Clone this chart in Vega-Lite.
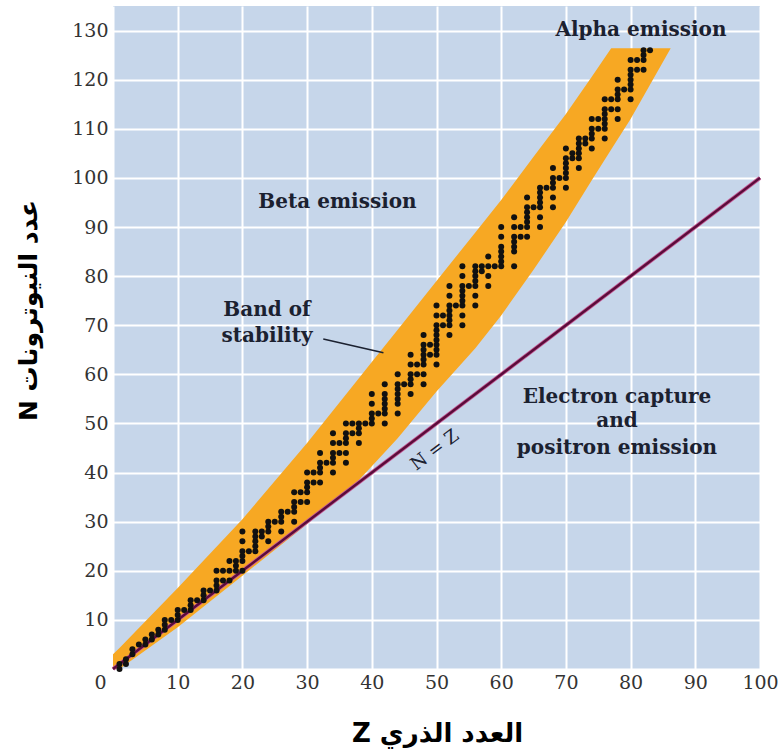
{
  "$schema": "https://vega.github.io/schema/vega-lite/v6.json",
  "width": 647,
  "height": 663,
  "autosize": {"type": "none"},
  "padding": {"left": 113, "top": 6, "right": 24, "bottom": 87},
  "background": "white",
  "config": {"view": {"fill": "#c6d6ea", "stroke": null}},
  "datasets": {
    "band": [
      {"Z": 0, "N": 0, "N2": 3},
      {"Z": 1, "N": 0, "N2": 4.3},
      {"Z": 10, "N": 8.5, "N2": 16.5},
      {"Z": 20, "N": 19, "N2": 30.5},
      {"Z": 30, "N": 29.5, "N2": 46},
      {"Z": 38, "N": 38.5, "N2": 59.2},
      {"Z": 40, "N": 41.3, "N2": 62.5},
      {"Z": 44, "N": 47, "N2": 69.1},
      {"Z": 50, "N": 56.5, "N2": 79},
      {"Z": 56, "N": 65.3, "N2": 88.9},
      {"Z": 60, "N": 72, "N2": 95.5},
      {"Z": 65, "N": 81.3, "N2": 104.3},
      {"Z": 70, "N": 91, "N2": 113},
      {"Z": 74, "N": 99.5, "N2": 120.6},
      {"Z": 77, "N": 105.8, "N2": 126.4},
      {"Z": 80, "N": 112, "N2": 126.4},
      {"Z": 86.2, "N": 126.4, "N2": 126.4}
    ],
    "diag": [{"Z": 0, "N": 0, "Z2": 100, "N2": 100}],
    "pointer": [{"Z": 32.5, "N": 67.2, "Z2": 41.8, "N2": 64.4}],
    "nuclides": [
      {"Z":1,"N":0},{"Z":1,"N":1},{"Z":2,"N":1},{"Z":2,"N":2},{"Z":3,"N":3},{"Z":3,"N":4},{"Z":4,"N":5},{"Z":5,"N":5},{"Z":5,"N":6},
      {"Z":6,"N":6},{"Z":6,"N":7},{"Z":7,"N":7},{"Z":7,"N":8},{"Z":8,"N":8},{"Z":8,"N":9},{"Z":8,"N":10},{"Z":9,"N":10},
      {"Z":10,"N":10},{"Z":10,"N":11},{"Z":10,"N":12},{"Z":11,"N":12},{"Z":12,"N":12},{"Z":12,"N":13},{"Z":12,"N":14},{"Z":13,"N":14},
      {"Z":14,"N":14},{"Z":14,"N":15},{"Z":14,"N":16},{"Z":15,"N":16},{"Z":16,"N":16},{"Z":16,"N":17},{"Z":16,"N":18},{"Z":16,"N":20},
      {"Z":17,"N":18},{"Z":17,"N":20},{"Z":18,"N":18},{"Z":18,"N":20},{"Z":18,"N":22},{"Z":19,"N":20},{"Z":19,"N":21},{"Z":19,"N":22},
      {"Z":20,"N":20},{"Z":20,"N":22},{"Z":20,"N":23},{"Z":20,"N":24},{"Z":20,"N":26},{"Z":20,"N":28},{"Z":21,"N":24},
      {"Z":22,"N":24},{"Z":22,"N":25},{"Z":22,"N":26},{"Z":22,"N":27},{"Z":22,"N":28},{"Z":23,"N":27},{"Z":23,"N":28},
      {"Z":24,"N":26},{"Z":24,"N":28},{"Z":24,"N":29},{"Z":24,"N":30},{"Z":25,"N":30},{"Z":26,"N":28},{"Z":26,"N":30},{"Z":26,"N":31},{"Z":26,"N":32},
      {"Z":27,"N":32},{"Z":28,"N":30},{"Z":28,"N":32},{"Z":28,"N":33},{"Z":28,"N":34},{"Z":28,"N":36},{"Z":29,"N":34},{"Z":29,"N":36},
      {"Z":30,"N":34},{"Z":30,"N":36},{"Z":30,"N":37},{"Z":30,"N":38},{"Z":30,"N":40},{"Z":31,"N":38},{"Z":31,"N":40},
      {"Z":32,"N":38},{"Z":32,"N":40},{"Z":32,"N":41},{"Z":32,"N":42},{"Z":32,"N":44},{"Z":33,"N":42},
      {"Z":34,"N":40},{"Z":34,"N":42},{"Z":34,"N":43},{"Z":34,"N":44},{"Z":34,"N":46},{"Z":34,"N":48},{"Z":35,"N":44},{"Z":35,"N":46},
      {"Z":36,"N":42},{"Z":36,"N":44},{"Z":36,"N":46},{"Z":36,"N":47},{"Z":36,"N":48},{"Z":36,"N":50},{"Z":37,"N":48},{"Z":37,"N":50},
      {"Z":38,"N":46},{"Z":38,"N":48},{"Z":38,"N":49},{"Z":38,"N":50},{"Z":39,"N":50},
      {"Z":40,"N":50},{"Z":40,"N":51},{"Z":40,"N":52},{"Z":40,"N":54},{"Z":40,"N":56},{"Z":41,"N":52},
      {"Z":42,"N":50},{"Z":42,"N":52},{"Z":42,"N":53},{"Z":42,"N":54},{"Z":42,"N":55},{"Z":42,"N":56},{"Z":42,"N":58},
      {"Z":44,"N":52},{"Z":44,"N":54},{"Z":44,"N":55},{"Z":44,"N":56},{"Z":44,"N":57},{"Z":44,"N":58},{"Z":44,"N":60},{"Z":45,"N":58},
      {"Z":46,"N":56},{"Z":46,"N":58},{"Z":46,"N":59},{"Z":46,"N":60},{"Z":46,"N":62},{"Z":46,"N":64},{"Z":47,"N":60},{"Z":47,"N":62},
      {"Z":48,"N":58},{"Z":48,"N":60},{"Z":48,"N":62},{"Z":48,"N":63},{"Z":48,"N":64},{"Z":48,"N":65},{"Z":48,"N":66},{"Z":48,"N":68},
      {"Z":49,"N":64},{"Z":49,"N":66},
      {"Z":50,"N":62},{"Z":50,"N":64},{"Z":50,"N":65},{"Z":50,"N":66},{"Z":50,"N":67},{"Z":50,"N":68},{"Z":50,"N":69},{"Z":50,"N":70},{"Z":50,"N":72},{"Z":50,"N":74},
      {"Z":51,"N":70},{"Z":51,"N":72},
      {"Z":52,"N":68},{"Z":52,"N":70},{"Z":52,"N":71},{"Z":52,"N":72},{"Z":52,"N":73},{"Z":52,"N":74},{"Z":52,"N":76},{"Z":52,"N":78},{"Z":53,"N":74},
      {"Z":54,"N":70},{"Z":54,"N":72},{"Z":54,"N":74},{"Z":54,"N":75},{"Z":54,"N":76},{"Z":54,"N":77},{"Z":54,"N":78},{"Z":54,"N":80},{"Z":54,"N":82},
      {"Z":55,"N":78},
      {"Z":56,"N":74},{"Z":56,"N":76},{"Z":56,"N":78},{"Z":56,"N":79},{"Z":56,"N":80},{"Z":56,"N":81},{"Z":56,"N":82},
      {"Z":57,"N":81},{"Z":57,"N":82},{"Z":58,"N":78},{"Z":58,"N":80},{"Z":58,"N":82},{"Z":58,"N":84},{"Z":59,"N":82},
      {"Z":60,"N":82},{"Z":60,"N":83},{"Z":60,"N":84},{"Z":60,"N":85},{"Z":60,"N":86},{"Z":60,"N":88},{"Z":60,"N":90},
      {"Z":62,"N":82},{"Z":62,"N":85},{"Z":62,"N":86},{"Z":62,"N":87},{"Z":62,"N":88},{"Z":62,"N":90},{"Z":62,"N":92},
      {"Z":63,"N":88},{"Z":63,"N":90},
      {"Z":64,"N":88},{"Z":64,"N":90},{"Z":64,"N":91},{"Z":64,"N":92},{"Z":64,"N":93},{"Z":64,"N":94},{"Z":64,"N":96},{"Z":65,"N":94},
      {"Z":66,"N":90},{"Z":66,"N":92},{"Z":66,"N":94},{"Z":66,"N":95},{"Z":66,"N":96},{"Z":66,"N":97},{"Z":66,"N":98},{"Z":67,"N":98},
      {"Z":68,"N":94},{"Z":68,"N":96},{"Z":68,"N":98},{"Z":68,"N":99},{"Z":68,"N":100},{"Z":68,"N":102},{"Z":69,"N":100},
      {"Z":70,"N":98},{"Z":70,"N":100},{"Z":70,"N":101},{"Z":70,"N":102},{"Z":70,"N":103},{"Z":70,"N":104},{"Z":70,"N":106},
      {"Z":71,"N":104},{"Z":71,"N":105},
      {"Z":72,"N":102},{"Z":72,"N":104},{"Z":72,"N":105},{"Z":72,"N":106},{"Z":72,"N":107},{"Z":72,"N":108},{"Z":73,"N":107},{"Z":73,"N":108},
      {"Z":74,"N":106},{"Z":74,"N":108},{"Z":74,"N":109},{"Z":74,"N":110},{"Z":74,"N":112},{"Z":75,"N":110},{"Z":75,"N":112},
      {"Z":76,"N":108},{"Z":76,"N":110},{"Z":76,"N":111},{"Z":76,"N":112},{"Z":76,"N":113},{"Z":76,"N":114},{"Z":76,"N":116},
      {"Z":77,"N":114},{"Z":77,"N":116},
      {"Z":78,"N":112},{"Z":78,"N":114},{"Z":78,"N":116},{"Z":78,"N":117},{"Z":78,"N":118},{"Z":78,"N":120},{"Z":79,"N":118},
      {"Z":80,"N":116},{"Z":80,"N":118},{"Z":80,"N":119},{"Z":80,"N":120},{"Z":80,"N":121},{"Z":80,"N":122},{"Z":80,"N":124},
      {"Z":81,"N":122},{"Z":81,"N":124},{"Z":82,"N":122},{"Z":82,"N":124},{"Z":82,"N":125},{"Z":82,"N":126},{"Z":83,"N":126}
    ],
    "notes": [
      {"Z": 81.6, "N": 130.1, "label": "Alpha emission"},
      {"Z": 34.7, "N": 95.0, "label": "Beta emission"},
      {"Z": 23.8, "N": 73.1, "label": "Band of"},
      {"Z": 23.8, "N": 67.8, "label": "stability"},
      {"Z": 77.9, "N": 55.3, "label": "Electron capture"},
      {"Z": 77.9, "N": 50.4, "label": "and"},
      {"Z": 77.9, "N": 44.9, "label": "positron emission"}
    ],
    "diaglabel": [{"Z": 49.8, "N": 44.5, "label": "N = Z"}]
  },
  "encoding": {
    "x": {
      "field": "Z", "type": "quantitative",
      "scale": {"domain": [0, 100], "nice": false, "zero": false},
      "axis": {
        "values": [0, 10, 20, 30, 40, 50, 60, 70, 80, 90, 100],
        "grid": true, "gridColor": "white", "gridWidth": 2, "gridOpacity": 1,
        "domain": false, "ticks": false,
        "labelFont": "DejaVu Serif", "labelFontSize": 19, "labelColor": "#333333",
        "labelPadding": 4, "labelFlush": false, "labelOverlap": false,
        "labelOffset": {"condition": {"test": "datum.value == 0", "value": -13}, "value": 0},
        "title": "Z العدد الذري",
        "titleFont": "DejaVu Sans", "titleFontSize": 26, "titleFontWeight": "bold", "titleColor": "black",
        "titleX": 324, "titleY": 64, "titleBaseline": "middle", "titleAlign": "center"
      }
    },
    "y": {
      "field": "N", "type": "quantitative",
      "scale": {"domain": [0, 135], "nice": false, "zero": false},
      "axis": {
        "values": [0, 10, 20, 30, 40, 50, 60, 70, 80, 90, 100, 110, 120, 130],
        "grid": true, "gridColor": "white", "gridWidth": 2, "gridOpacity": 1,
        "domain": false, "ticks": false,
        "labelFont": "DejaVu Serif", "labelFontSize": 19, "labelColor": "#333333",
        "labelPadding": 5, "labelOverlap": false,
        "labelExpr": "datum.value == 0 ? '' : datum.label",
        "title": "N عدد النيوترونات",
        "titleFont": "DejaVu Sans", "titleFontSize": 25, "titleFontWeight": "bold", "titleColor": "black",
        "titleX": -85, "titleY": 304, "titleAngle": -90, "titleBaseline": "middle", "titleAlign": "center"
      }
    }
  },
  "layer": [
    {
      "data": {"name": "band"},
      "mark": {"type": "area", "color": "#f7a823", "opacity": 1},
      "encoding": {"y2": {"field": "N2"}}
    },
    {
      "data": {"name": "diag"},
      "mark": {"type": "rule", "color": "#c45a95", "strokeWidth": 4},
      "encoding": {"x2": {"field": "Z2"}, "y2": {"field": "N2"}}
    },
    {
      "data": {"name": "diag"},
      "mark": {"type": "rule", "color": "#5a0c3a", "strokeWidth": 2.4},
      "encoding": {"x2": {"field": "Z2"}, "y2": {"field": "N2"}}
    },
    {
      "data": {"name": "pointer"},
      "mark": {"type": "rule", "color": "#1b2130", "strokeWidth": 1.5},
      "encoding": {"x2": {"field": "Z2"}, "y2": {"field": "N2"}}
    },
    {
      "data": {"name": "nuclides"},
      "mark": {"type": "circle", "color": "#111111", "size": 36, "opacity": 1}
    },
    {
      "data": {"name": "notes"},
      "mark": {"type": "text", "font": "DejaVu Serif", "fontSize": 20, "fontWeight": "bold", "color": "#1b2130", "align": "center", "baseline": "middle"},
      "encoding": {"text": {"field": "label"}}
    },
    {
      "data": {"name": "diaglabel"},
      "mark": {"type": "text", "font": "DejaVu Serif", "fontSize": 18, "color": "#1b2130", "align": "center", "baseline": "middle", "angle": -37},
      "encoding": {"text": {"field": "label"}}
    }
  ]
}
